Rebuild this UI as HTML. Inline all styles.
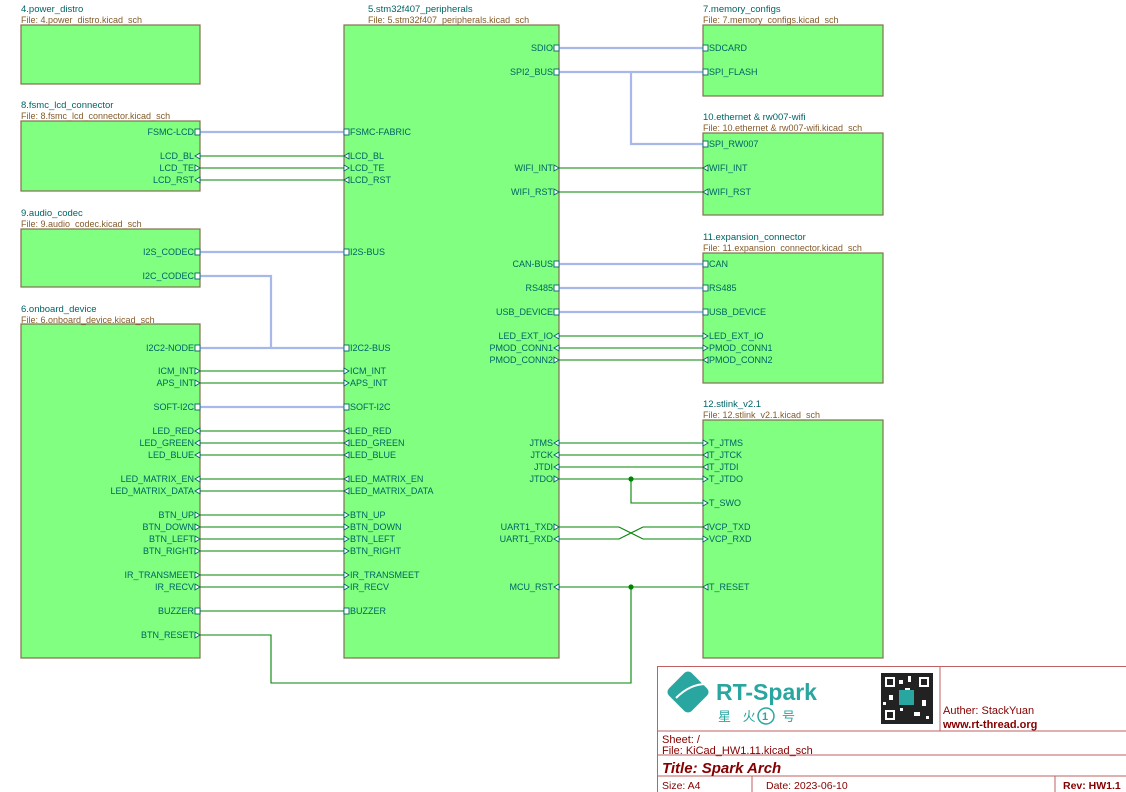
<!DOCTYPE html>
<html><head><meta charset="utf-8"><style>
html,body{margin:0;padding:0;background:#fff}
svg{display:block}
text{font-family:"Liberation Sans","Noto Sans CJK SC",sans-serif;font-size:9px;fill:#006464}
.t{fill:#006464;font-size:9.5px}
.f{fill:#845a28;font-size:9px}
.tb{fill:#840000;font-size:11px}
</style></head><body>
<svg width="1126" height="792" viewBox="0 0 1126 792" xmlns="http://www.w3.org/2000/svg">
<g fill="#80ff80" stroke="#847050" stroke-width="1.2">
<rect x="21" y="25" width="179" height="59"/>
<rect x="21" y="121" width="179" height="70"/>
<rect x="21" y="229" width="179" height="58"/>
<rect x="21" y="324" width="179" height="334"/>
<rect x="344" y="25" width="215" height="633"/>
<rect x="703" y="25" width="180" height="71"/>
<rect x="703" y="133" width="180" height="82"/>
<rect x="703" y="253" width="180" height="130"/>
<rect x="703" y="420" width="180" height="238"/>
</g>
<g>
<text class="t" x="21" y="12">4.power_distro</text><text class="f" x="21" y="23">File: 4.power_distro.kicad_sch</text>
<text class="t" x="21" y="108">8.fsmc_lcd_connector</text><text class="f" x="21" y="119">File: 8.fsmc_lcd_connector.kicad_sch</text>
<text class="t" x="21" y="216">9.audio_codec</text><text class="f" x="21" y="227">File: 9.audio_codec.kicad_sch</text>
<text class="t" x="21" y="312">6.onboard_device</text><text class="f" x="21" y="323">File: 6.onboard_device.kicad_sch</text>
<text class="t" x="368" y="12">5.stm32f407_peripherals</text><text class="f" x="368" y="23">File: 5.stm32f407_peripherals.kicad_sch</text>
<text class="t" x="703" y="12">7.memory_configs</text><text class="f" x="703" y="23">File: 7.memory_configs.kicad_sch</text>
<text class="t" x="703" y="120">10.ethernet &amp; rw007-wifi</text><text class="f" x="703" y="131">File: 10.ethernet &amp; rw007-wifi.kicad_sch</text>
<text class="t" x="703" y="240">11.expansion_connector</text><text class="f" x="703" y="251">File: 11.expansion_connector.kicad_sch</text>
<text class="t" x="703" y="407">12.stlink_v2.1</text><text class="f" x="703" y="418">File: 12.stlink_v2.1.kicad_sch</text>
</g>
<g stroke="#a8b8e8" stroke-width="2.2" fill="none">
<path d="M200 132H344M200 252H344M200 276H271V348M200 348H344M200 407H344M559 48H703M559 72H703M631 72V144H703M559 264H703M559 288H703M559 312H703"/>
</g>
<g stroke="#008400" stroke-width="1.1" fill="none">
<path d="M200 156H344M200 168H344M200 180H344M200 371H344M200 383H344M200 431H344M200 443H344M200 455H344M200 479H344M200 491H344M200 515H344M200 527H344M200 539H344M200 551H344M200 575H344M200 587H344M200 611H344M200 635H271V683H631V587"/>
<path d="M559 168H703M559 192H703M559 336H703M559 348H703M559 360H703M559 443H703M559 455H703M559 467H703M559 479H703M631 479V503H703M559 587H703"/>
<path d="M559 527H619L643 539H703M559 539H619L643 527H703"/>
</g>
<g fill="#008400"><circle cx="631" cy="479" r="2.6"/><circle cx="631" cy="587" r="2.6"/></g>
<g fill="#fff" stroke="#006464" stroke-width="0.9">
<rect x="195" y="129" width="5" height="6"/><rect x="344" y="129" width="5" height="6"/>
<rect x="195" y="249" width="5" height="6"/><rect x="344" y="249" width="5" height="6"/>
<rect x="195" y="273" width="5" height="6"/>
<rect x="195" y="345" width="5" height="6"/><rect x="344" y="345" width="5" height="6"/>
<rect x="195" y="404" width="5" height="6"/><rect x="344" y="404" width="5" height="6"/>
<rect x="554" y="45" width="5" height="6"/><rect x="703" y="45" width="5" height="6"/>
<rect x="554" y="69" width="5" height="6"/><rect x="703" y="69" width="5" height="6"/>
<rect x="703" y="141" width="5" height="6"/>
<rect x="554" y="261" width="5" height="6"/><rect x="703" y="261" width="5" height="6"/>
<rect x="554" y="285" width="5" height="6"/><rect x="703" y="285" width="5" height="6"/>
<rect x="554" y="309" width="5" height="6"/><rect x="703" y="309" width="5" height="6"/>
</g>
<g fill="#fff" stroke="#006464" stroke-width="0.9">
<path d="M200 153L195 156L200 159Z M349 153L344 156L349 159Z M195 165L200 168L195 171Z M344 165L349 168L344 171Z M200 177L195 180L200 183Z M349 177L344 180L349 183Z"/>
<path d="M195 368L200 371L195 374Z M344 368L349 371L344 374Z M195 380L200 383L195 386Z M344 380L349 383L344 386Z"/>
<path d="M200 428L195 431L200 434Z M349 428L344 431L349 434Z M200 440L195 443L200 446Z M349 440L344 443L349 446Z M200 452L195 455L200 458Z M349 452L344 455L349 458Z"/>
<path d="M200 476L195 479L200 482Z M349 476L344 479L349 482Z M200 488L195 491L200 494Z M349 488L344 491L349 494Z"/>
<path d="M195 512L200 515L195 518Z M344 512L349 515L344 518Z M195 524L200 527L195 530Z M344 524L349 527L344 530Z M195 536L200 539L195 542Z M344 536L349 539L344 542Z M195 548L200 551L195 554Z M344 548L349 551L344 554Z"/>
<path d="M195 572L200 575L195 578Z M344 572L349 575L344 578Z M195 584L200 587L195 590Z M344 584L349 587L344 590Z"/>
<rect x="195" y="608" width="5" height="6"/><rect x="344" y="608" width="5" height="6"/>
<path d="M195 632L200 635L195 638Z"/>
<path d="M554 165L559 168L554 171Z M708 165L703 168L708 171Z M554 189L559 192L554 195Z M708 189L703 192L708 195Z"/>
<path d="M559 333L554 336L559 339Z M703 333L708 336L703 339Z M559 345L554 348L559 351Z M703 345L708 348L703 351Z M554 357L559 360L554 363Z M708 357L703 360L708 363Z"/>
<path d="M559 440L554 443L559 446Z M703 440L708 443L703 446Z M559 452L554 455L559 458Z M708 452L703 455L708 458Z M559 464L554 467L559 470Z M708 464L703 467L708 470Z M554 476L559 479L554 482Z M703 476L708 479L703 482Z M703 500L708 503L703 506Z"/>
<path d="M554 524L559 527L554 530Z M708 524L703 527L708 530Z M559 536L554 539L559 542Z M703 536L708 539L703 542Z"/>
<path d="M559 584L554 587L559 590Z M708 584L703 587L708 590Z"/>
</g>
<g text-anchor="end">
<text x="194" y="135">FSMC-LCD</text><text x="194" y="159">LCD_BL</text><text x="194" y="171">LCD_TE</text><text x="194" y="183">LCD_RST</text>
<text x="194" y="255">I2S_CODEC</text><text x="194" y="279">I2C_CODEC</text>
<text x="194" y="351">I2C2-NODE</text><text x="194" y="374">ICM_INT</text><text x="194" y="386">APS_INT</text><text x="194" y="410">SOFT-I2C</text>
<text x="194" y="434">LED_RED</text><text x="194" y="446">LED_GREEN</text><text x="194" y="458">LED_BLUE</text>
<text x="194" y="482">LED_MATRIX_EN</text><text x="194" y="494">LED_MATRIX_DATA</text>
<text x="194" y="518">BTN_UP</text><text x="194" y="530">BTN_DOWN</text><text x="194" y="542">BTN_LEFT</text><text x="194" y="554">BTN_RIGHT</text>
<text x="194" y="578">IR_TRANSMEET</text><text x="194" y="590">IR_RECV</text><text x="194" y="614">BUZZER</text><text x="194" y="638">BTN_RESET</text>
<text x="553" y="51">SDIO</text><text x="553" y="75">SPI2_BUS</text><text x="553" y="171">WIFI_INT</text><text x="553" y="195">WIFI_RST</text>
<text x="553" y="267">CAN-BUS</text><text x="553" y="291">RS485</text><text x="553" y="315">USB_DEVICE</text><text x="553" y="339">LED_EXT_IO</text><text x="553" y="351">PMOD_CONN1</text><text x="553" y="363">PMOD_CONN2</text>
<text x="553" y="446">JTMS</text><text x="553" y="458">JTCK</text><text x="553" y="470">JTDI</text><text x="553" y="482">JTDO</text>
<text x="553" y="530">UART1_TXD</text><text x="553" y="542">UART1_RXD</text><text x="553" y="590">MCU_RST</text>
</g>
<g>
<text x="350" y="135">FSMC-FABRIC</text><text x="350" y="159">LCD_BL</text><text x="350" y="171">LCD_TE</text><text x="350" y="183">LCD_RST</text>
<text x="350" y="255">I2S-BUS</text><text x="350" y="351">I2C2-BUS</text><text x="350" y="374">ICM_INT</text><text x="350" y="386">APS_INT</text><text x="350" y="410">SOFT-I2C</text>
<text x="350" y="434">LED_RED</text><text x="350" y="446">LED_GREEN</text><text x="350" y="458">LED_BLUE</text>
<text x="350" y="482">LED_MATRIX_EN</text><text x="350" y="494">LED_MATRIX_DATA</text>
<text x="350" y="518">BTN_UP</text><text x="350" y="530">BTN_DOWN</text><text x="350" y="542">BTN_LEFT</text><text x="350" y="554">BTN_RIGHT</text>
<text x="350" y="578">IR_TRANSMEET</text><text x="350" y="590">IR_RECV</text><text x="350" y="614">BUZZER</text>
<text x="709" y="51">SDCARD</text><text x="709" y="75">SPI_FLASH</text><text x="709" y="147">SPI_RW007</text><text x="709" y="171">WIFI_INT</text><text x="709" y="195">WIFI_RST</text>
<text x="709" y="267">CAN</text><text x="709" y="291">RS485</text><text x="709" y="315">USB_DEVICE</text><text x="709" y="339">LED_EXT_IO</text><text x="709" y="351">PMOD_CONN1</text><text x="709" y="363">PMOD_CONN2</text>
<text x="709" y="446">T_JTMS</text><text x="709" y="458">T_JTCK</text><text x="709" y="470">T_JTDI</text><text x="709" y="482">T_JTDO</text><text x="709" y="506">T_SWO</text>
<text x="709" y="530">VCP_TXD</text><text x="709" y="542">VCP_RXD</text><text x="709" y="590">T_RESET</text>
</g>
<g stroke="#c06060" stroke-width="1" fill="none">
<rect x="657.5" y="666.5" width="480" height="130"/>
<path d="M657 731H1126M657 755H1126M657 776H1126M940 666V731M752 776V792M1055 776V792"/>
</g>
<g>
<rect x="672" y="676" width="32" height="32" rx="5" fill="#2aa6a0" transform="rotate(45 688 692)"/>
<path d="M676 698Q690 684 706 684" stroke="#fff" stroke-width="2" fill="none"/>
<text x="716" y="700" style="font-size:23px;font-weight:bold;fill:#2aa6a0">RT-Spark</text>
<text x="718" y="721" style="font-size:13px;fill:#2aa6a0;letter-spacing:4px">星 火 </text>
<circle cx="766" cy="716" r="8" fill="none" stroke="#2aa6a0" stroke-width="1.5"/>
<text x="762" y="720" style="font-size:11px;font-weight:bold;fill:#2aa6a0">1</text>
<text x="782" y="721" style="font-size:13px;fill:#2aa6a0">号</text>
<rect x="881" y="673" width="52" height="51" fill="#222"/>
<g fill="#fff"><rect x="885" y="677" width="10" height="10"/><rect x="919" y="677" width="10" height="10"/><rect x="885" y="710" width="10" height="10"/><rect x="899" y="680" width="4" height="4"/><rect x="905" y="688" width="5" height="3"/><rect x="889" y="695" width="4" height="5"/><rect x="914" y="712" width="6" height="4"/><rect x="922" y="700" width="4" height="6"/><rect x="900" y="708" width="3" height="3"/><rect x="908" y="676" width="3" height="6"/><rect x="926" y="716" width="3" height="3"/><rect x="883" y="702" width="3" height="3"/></g>
<g fill="#222"><rect x="887" y="679" width="6" height="6"/><rect x="921" y="679" width="6" height="6"/><rect x="887" y="712" width="6" height="6"/></g>
<rect x="899" y="690" width="15" height="15" fill="#2aa6a0"/>
<text class="tb" x="943" y="714">Auther: StackYuan</text>
<text class="tb" x="943" y="728" style="font-weight:bold">www.rt-thread.org</text>
<text class="tb" x="662" y="743">Sheet: /</text>
<text class="tb" x="662" y="754">File: KiCad_HW1.11.kicad_sch</text>
<text class="tb" x="662" y="773" style="font-size:15px;font-weight:bold;font-style:italic">Title: Spark Arch</text>
<text class="tb" x="662" y="789" style="font-size:10.5px">Size: A4</text>
<text class="tb" x="766" y="789" style="font-size:10.5px">Date: 2023-06-10</text>
<text class="tb" x="1063" y="789" style="font-size:10.5px;font-weight:bold">Rev: HW1.1</text>
</g>
</svg>
</body></html>
